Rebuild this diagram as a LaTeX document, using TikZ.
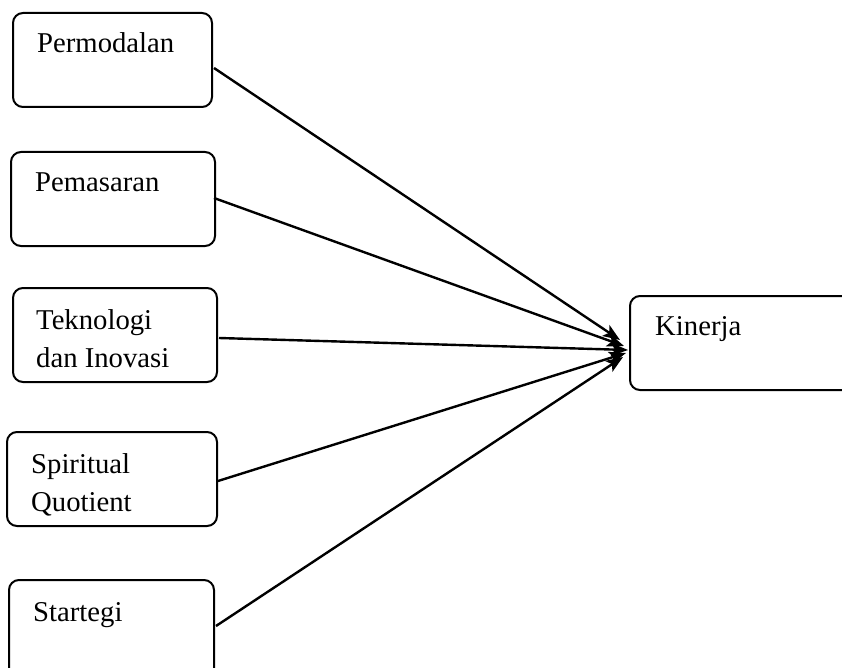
\documentclass[tikz,border=0pt]{standalone}
\usepackage{fontspec}
\setmainfont{Liberation Serif}
\usetikzlibrary{arrows.meta}
\begin{document}
\begin{tikzpicture}[x=1pt,y=-1pt,
  box/.style={draw,line width=2pt,rounded corners=10pt},
  lbl/.style={anchor=base west,inner sep=0pt,font=\fontsize{28.7}{38}\selectfont,align=left},
  conn/.style={line width=2.4pt,-{Stealth[length=17pt,width=13pt,inset=4pt]}}]
\useasboundingbox (0,0) rectangle (842,668);
\clip (0,0) rectangle (842,668);
\draw[box] (13,13) rectangle (212,107) node[midway] (perm) {};
\draw[box] (11,152) rectangle (215,246) node[midway] (pema) {};
\draw[box] (13,288) rectangle (217,382) node[midway] (tekn) {};
\draw[box] (7,432) rectangle (217,526) node[midway] (spir) {};
\draw[box] (9,580) rectangle (214,690) node[midway] (star) {};
\draw[box] (630,296) rectangle (870,390) node[midway] (kin) {};
\node[lbl] (tperm) at (37,53) {Permodalan};
\node[lbl] (tpema) at (35,192) {Pemasaran};
\node[lbl] (ttekn) at (36,367) {Teknologi\\dan Inovasi};
\node[lbl] (tspir) at (31,511) {Spiritual\\Quotient};
\node[lbl] (tstar) at (33,621) {Startegi};
\node[lbl] (tkin) at (655,335) {Kinerja};
\coordinate (s1) at (214,68);
\coordinate (s2) at (214,198);
\coordinate (s3) at (219,338);
\coordinate (s4) at (218,481);
\coordinate (s5) at (216,626);
\coordinate (e1) at (620,340);
\coordinate (e2) at (624,346);
\coordinate (e3) at (628,350);
\coordinate (e4) at (626,353);
\coordinate (e5) at (623,357);
\draw[conn] (s1) -- (e1);
\draw[conn] (s2) -- (e2);
\draw[conn] (s3) -- (e3);
\draw[conn] (s4) -- (e4);
\draw[conn] (s5) -- (e5);
\end{tikzpicture}
\end{document}
